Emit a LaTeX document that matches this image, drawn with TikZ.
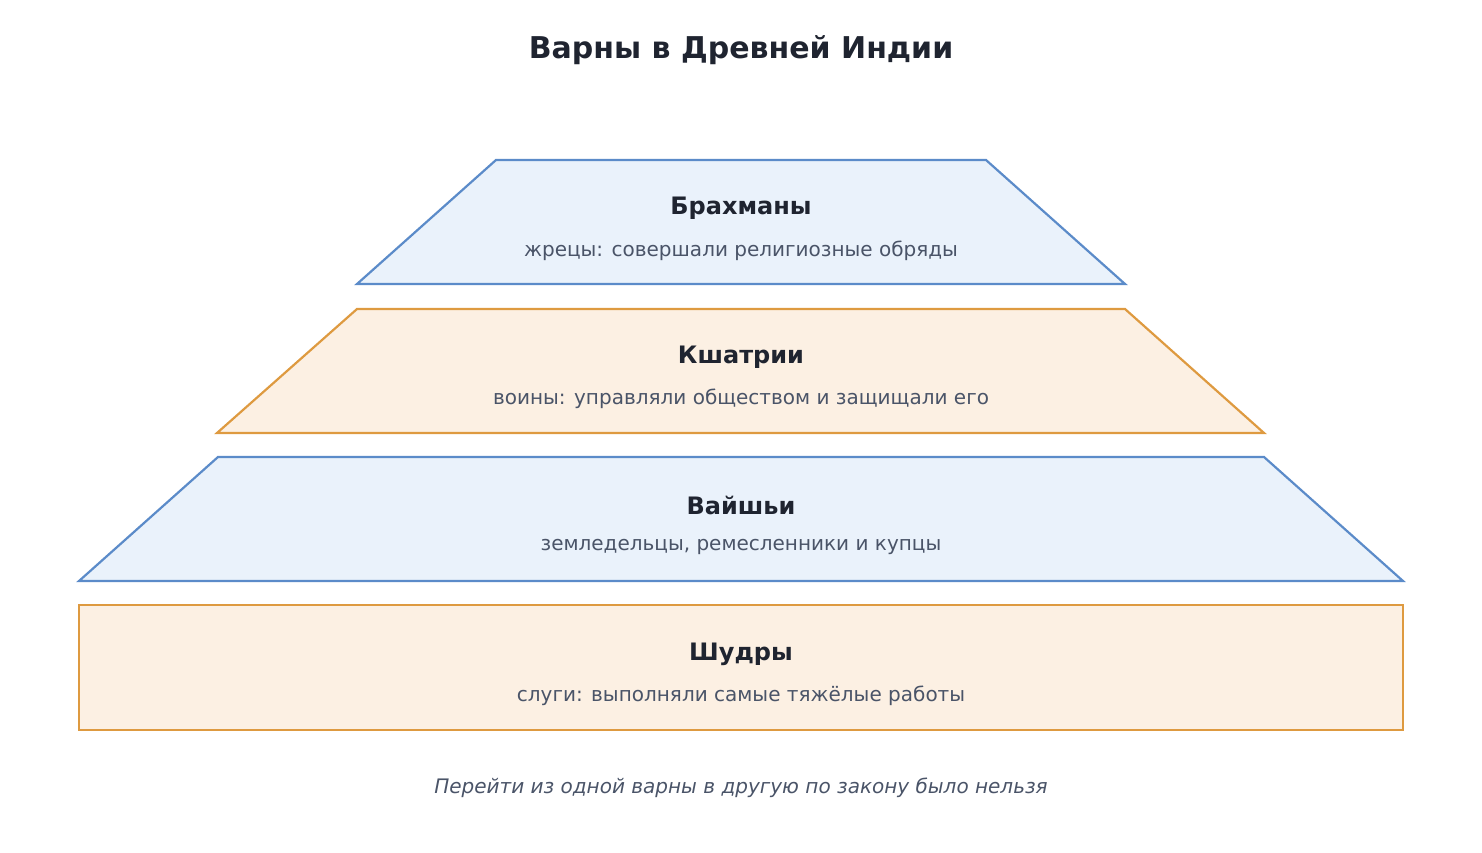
\documentclass[tikz,border=0pt]{standalone}
\usepackage{fontspec}
\setmainfont{DejaVu Sans}
\begin{document}
\begin{tikzpicture}[x=1pt,y=-1pt,
  blue/.style={draw=blueS,fill=blueF,line width=2.2pt,line join=miter},
  orng/.style={draw=orS,fill=orF,line width=2.2pt},
  head/.style={text=dark,font=\fontsize{24}{28}\selectfont\bfseries},
  sub/.style={text=gry,font=\fontsize{20}{24}\selectfont}]
\definecolor{blueS}{HTML}{5B8BC9}\definecolor{blueF}{HTML}{EAF2FB}
\definecolor{orS}{HTML}{DE9A40}\definecolor{orF}{HTML}{FCF0E3}
\definecolor{dark}{HTML}{1F2430}\definecolor{gry}{HTML}{4A5468}
\useasboundingbox (0,0) rectangle (1482,852);
\node[text=dark,font=\fontsize{30}{36}\selectfont\bfseries] (title) at (741,50) {Варны в Древней Индии};
\draw[blue] (357,284)--(496,160)--(986,160)--(1125,284)--cycle;
\draw[orng] (217,433)--(357,309)--(1125,309)--(1264,433)--cycle;
\draw[blue] (79,581)--(218,457)--(1264,457)--(1403,581)--cycle;
\draw[orng] (79,605) rectangle (1403,730);
\node[head] (h1) at (741,208) {Брахманы};
\node[sub] (s1) at (741,251) {жрецы: совершали религиозные обряды};
\node[head] (h2) at (741,357) {Кшатрии};
\node[sub] (s2) at (741,399) {воины: управляли обществом и защищали его};
\node[head] (h3) at (741,505) {Вайшьи};
\node[sub] (s3) at (741,547) {земледельцы, ремесленники и купцы};
\node[head] (h4) at (741,654) {Шудры};
\node[sub] (s4) at (741,696) {слуги: выполняли самые тяжёлые работы};
\node[sub,font=\fontsize{20}{24}\selectfont\itshape] (foot) at (741,788) {Перейти из одной варны в другую по закону было нельзя};
\end{tikzpicture}
\end{document}
